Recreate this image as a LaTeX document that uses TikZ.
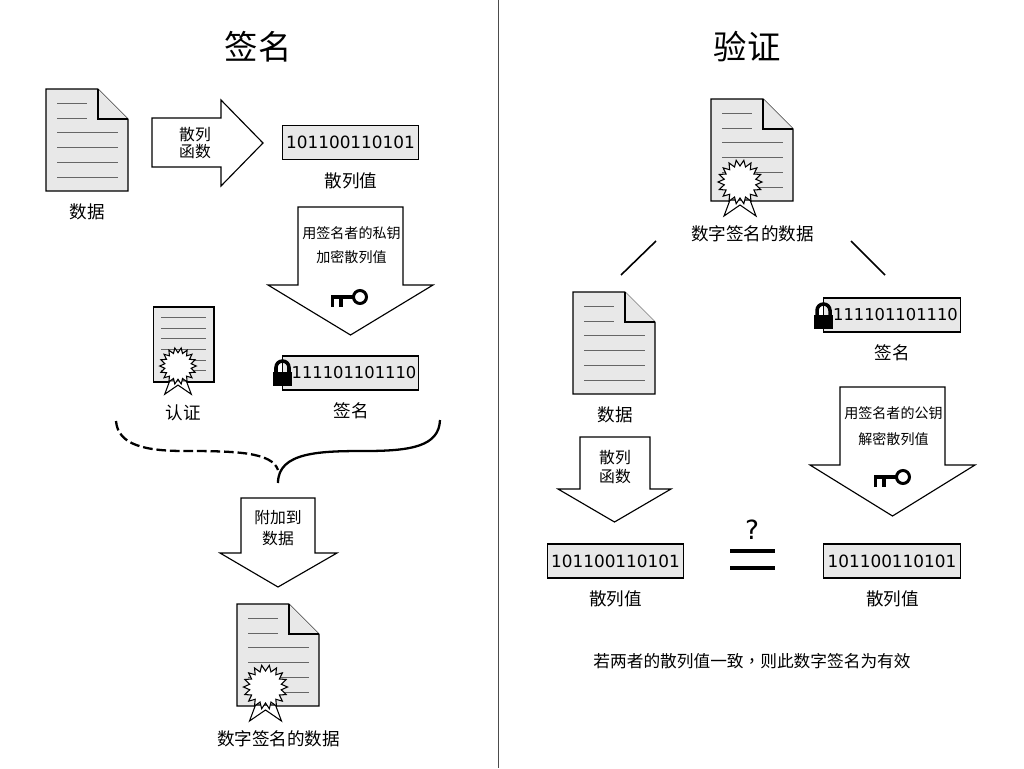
\documentclass[tikz,border=0pt]{standalone}
\usepackage{fontspec}
\setmainfont{Noto Sans CJK SC}
\newfontfamily\digitfont{DejaVu Sans}
\newfontfamily\tcfont{Noto Sans CJK TC}
\usetikzlibrary{positioning}

\tikzset{
  doc/.pic={
    \draw[sheet] (0,0) -- (52,0) -- (82,30) -- (82,102) -- (0,102) -- cycle;
    \draw[sheet] (52,0) -- (52,30) -- (82,30);
    \foreach \y in {14,29} \draw[rule] (11,\y) -- (41,\y);
    \foreach \y in {43,58,73,88} \draw[rule] (11,\y) -- (72,\y);
  },
  seal/.pic={
    \draw[sealline] (-10,18) -- (-16,34) -- (0,23) -- (16,34) -- (10,18) -- cycle;
    \draw[sealline] (0:22) \foreach \i in {1,...,35} { -- ({\i*10}:{mod(\i,2)==0 ? 22 : 16}) } -- cycle;
  },
  lock/.pic={
    \fill[black] (0,0) rectangle (19,14);
    \draw[black, line width=2pt] (3,1) -- (3,-4.5) arc[start angle=180, end angle=360, radius=6.5] -- (16,1);
  },
  key/.pic={
    \draw[black, line width=1.7pt] (0,0) circle[radius=6.5];
    \draw[black, line width=1.9pt] (-6.5,0) -- (-29,0) (-27.5,0) -- (-27.5,10) (-19,0) -- (-19,10);
  },
}

\begin{document}
\begin{tikzpicture}[
    x=0.02cm, y=-0.02cm,
    node distance=0.2cm and 0.2cm,
    sheet/.style={draw=black, fill=gray!18, line width=0.6pt, line join=miter},
    rule/.style={draw=gray!80!black, line width=0.45pt},
    sealline/.style={draw=black, fill=white, line width=0.6pt},
    arrowbox/.style={draw=black, fill=white, line width=0.65pt, line join=miter},
    bits/.style={rectangle, draw=black, fill=gray!18, line width=0.6pt, inner sep=0pt,
                 minimum width=2.73cm, minimum height=0.68cm, font=\digitfont\fontsize{9.6}{11}\selectfont},
    signbits/.style={bits, font=\digitfont\fontsize{9.3}{11}\selectfont},
    title/.style={font=\fontsize{19}{22}\selectfont},
    label/.style={font=\fontsize{10}{12}\selectfont},
    small/.style={font=\fontsize{8}{10}\selectfont},
    medium/.style={font=\fontsize{9}{11}\selectfont},
    brace/.style={draw=black, line width=1.3pt},
  ]
  \useasboundingbox (0,0) rectangle (1024,768);
  \fill[white] (0,0) rectangle (1024,768);

  % divider
  \coordinate (divtop) at (498.5,0);
  \coordinate (divbot) at (498.5,768);
  \draw[gray!60!black, line width=0.6pt] (divtop) -- (divbot);

  % left side
  \node[title] (signtitle) at (258,47) {签名};

  \pic at (46,89) {doc};
  \node[label] (data1) at (87,212) {数据};

  \draw[arrowbox] (152,118) -- (221,118) -- (221,100) -- (263,143) -- (221,186) -- (221,167) -- (152,167) -- cycle;
  \node[medium] (hash1a) at (195,135) {散列};
  \node[medium] (hash1b) at (195,152) {函数};

  \node[bits] (hashbits1) at (350.5,142.5) {101100110101};
  \node[label] (hashlabel1) at (351,181) {散列值};

  \draw[arrowbox] (298,207) -- (403,207) -- (403,285) -- (433,285) -- (350.5,335) -- (268,285) -- (298,285) -- cycle;
  \node[small] (enc1) at (351.5,233) {用签名者的私钥};
  \node[small] (enc2) at (351.5,257) {加密散列值};
  \pic at (360,297) {key};

  \draw[sheet] (153.5,307) rectangle (214,382);
  \foreach \y in {317,328,338,349,360,370} \draw[rule] (161,\y) -- (206,\y);
  \pic[scale=0.83] at (178,366) {seal};
  \node[label] (certlabel) at (183,413) {认证};

  \node[signbits] (signbits1) at (350.5,373) {\hspace{0.14cm}111101101110};
  \pic at (273,372) {lock};
  \node[label] (signlabel1) at (351,411) {签名};

  \coordinate (braceleft) at (116,421);
  \coordinate (braceright) at (440,420);
  \coordinate (bracemid) at (278,470);
  \coordinate (bracetip) at (278,483);
  \draw[brace, dash pattern=on 5.5pt off 2.2pt] (braceleft) .. controls (118,445) and (145,451) .. (185,451)
      .. controls (235,451) and (272,452) .. (bracemid);
  \draw[brace] (braceright) .. controls (439,446) and (412,451) .. (365,451)
      .. controls (320,451) and (278,452) .. (bracetip);

  \draw[arrowbox] (241,498) -- (315,498) -- (315,553) -- (337,553) -- (278,587) -- (220,553) -- (241,553) -- cycle;
  \node[medium] (attach1) at (278,517) {附加到};
  \node[medium] (attach2) at (278,538) {数据};

  \pic at (237,604) {doc};
  \pic at (265.5,687) {seal};
  \node[label] (signed1) at (278.5,739) {数字签名的数据};

  % right side
  \node[title] (verifytitle) at (747,47) {验证};

  \pic at (711,99) {doc};
  \pic at (740,182) {seal};
  \node[label] (signed2) at (752.5,234) {数字签名的数据};

  \coordinate (lineAa) at (656,241);
  \coordinate (lineAb) at (621,275);
  \coordinate (lineBa) at (851,241);
  \coordinate (lineBb) at (885,275);
  \draw[black, line width=0.9pt] (lineAa) -- (lineAb);
  \draw[black, line width=0.9pt] (lineBa) -- (lineBb);

  \pic at (573,292) {doc};
  \node[label] (data2) at (615,415) {数据};

  \node[signbits] (signbits2) at (892,315) {\hspace{0.14cm}111101101110};
  \pic at (814,315) {lock};
  \node[label] (signlabel2) at (892.5,353) {签名};

  \draw[arrowbox] (580,437) -- (650,437) -- (650,489) -- (671,489) -- (614.5,522) -- (558,489) -- (580,489) -- cycle;
  \node[medium] (hash2a) at (615,458) {散列};
  \node[medium] (hash2b) at (615,476) {函数};

  \draw[arrowbox] (840,387) -- (945,387) -- (945,465) -- (975,465) -- (892.5,516) -- (810,465) -- (840,465) -- cycle;
  \node[small] (dec1) at (893.5,413) {用签名者的公钥};
  \node[small] (dec2) at (893.5,439) {解密散列值};
  \pic at (903,477) {key};

  \node[bits] (hashbits2) at (615.5,561) {101100110101};
  \node[label] (hashlabel2) at (615.5,599) {散列值};
  \node[bits] (hashbits3) at (892,561) {101100110101};
  \node[label] (hashlabel3) at (892.5,599) {散列值};

  \node[font=\digitfont\fontsize{15}{18}\selectfont] (query) at (752,530) {?};
  \coordinate (eqAa) at (730,551);
  \coordinate (eqAb) at (775,551);
  \coordinate (eqBa) at (730,568);
  \coordinate (eqBb) at (775,568);
  \draw[black, line width=2.7pt] (eqAa) -- (eqAb);
  \draw[black, line width=2.7pt] (eqBa) -- (eqBb);

  \node[font=\fontsize{9.5}{12}\selectfont] (verdict) at (752,661) {若两者的散列值一致{\tcfont ，}则此数字签名为有效};
\end{tikzpicture}
\end{document}
